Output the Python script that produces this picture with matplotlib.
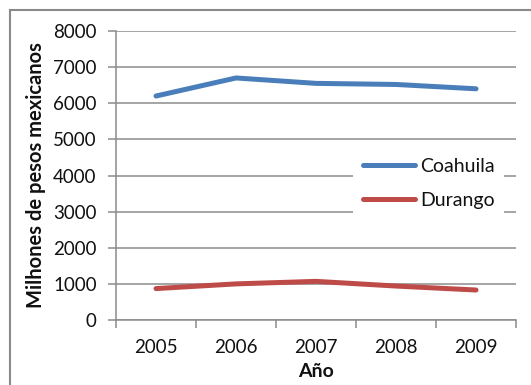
import numpy as np
import matplotlib.pyplot as plt
from matplotlib.patches import Rectangle

plt.rcParams['font.family'] = ['Lato', 'DejaVu Sans']

anos = ['2005', '2006', '2007', '2008', '2009']
coahuila = [6200, 6700, 6550, 6520, 6400]
durango = [870, 1000, 1070, 940, 830]

grid_col = '#8c8c8c'
txt_col = '#111111'

fig = plt.figure(figsize=(5.31, 3.85), dpi=100)
ax = fig.add_axes([0.2185, 0.1688, 0.7533, 0.7507])

x = np.arange(len(anos))
ax.plot(x, coahuila, color='#4a7ebb', lw=3.6, solid_capstyle='round', label='Coahuila')
ax.plot(x, durango, color='#be4b48', lw=3.6, solid_capstyle='round', label='Durango')

ax.set_xlim(-0.5, len(anos) - 0.5)
ax.set_ylim(0, 8000)
ax.set_yticks(np.arange(0, 8001, 1000))
ax.yaxis.grid(True, color=grid_col, lw=1.1)
ax.set_axisbelow(True)

ax.set_xticks(x)
ax.set_xticklabels(anos)
ax.set_xticks(np.arange(-0.5, len(anos)), minor=True)
ax.tick_params(axis='x', which='major', length=0, pad=14, labelsize=13.5, labelcolor=txt_col)
ax.tick_params(axis='x', which='minor', length=6, width=1.1, color=grid_col)
ax.tick_params(axis='y', length=6, width=1.1, color=grid_col, pad=8, labelsize=13.5, labelcolor=txt_col)

for s in ['top', 'right']:
    ax.spines[s].set_visible(False)
for s in ['left', 'bottom']:
    ax.spines[s].set_color(grid_col)
    ax.spines[s].set_linewidth(1.1)

ax.set_ylabel('Milhones de pesos mexicanos', fontsize=14.5, fontweight='bold', color=txt_col, labelpad=5)
ax.set_xlabel('Año', fontsize=14, fontweight='bold', color=txt_col, labelpad=5)

leg = ax.legend(loc='upper left', bbox_to_anchor=(0.5925, 0.594), frameon=True, fontsize=14,
                handlelength=2.7, handletextpad=0.25, labelspacing=0.85, borderpad=0.5,
                borderaxespad=0)
leg.get_frame().set_facecolor('white')
leg.get_frame().set_edgecolor('none')
leg.get_frame().set_alpha(1)
leg.get_frame().set_boxstyle('square', pad=0)
for t in leg.get_texts():
    t.set_color(txt_col)

# chart frame
fig.patches.append(Rectangle((10 / 531, -0.2), 1.2, 0.2 + (1 - 10 / 385), transform=fig.transFigure,
                             fill=False, edgecolor='#8a8a8a', lw=1.5))

fig.savefig('out.png', dpi=100)
